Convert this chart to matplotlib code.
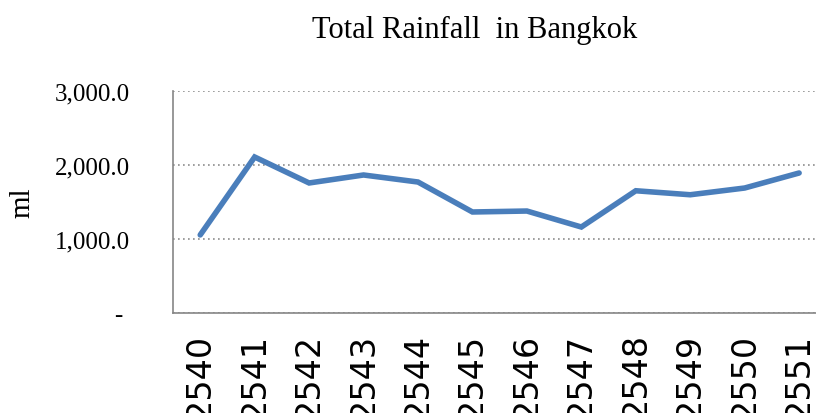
import matplotlib
matplotlib.use("Agg")
import matplotlib.pyplot as plt
from matplotlib.ticker import FuncFormatter

# Данные: годы (буддийский календарь) и суммарные осадки
years = ["2540", "2541", "2542", "2543", "2544", "2545",
         "2546", "2547", "2548", "2549", "2550", "2551"]
rainfall = [1055, 2108, 1757, 1865, 1770, 1365,
            1378, 1162, 1652, 1598, 1689, 1892]
y_ticks = [0, 1000, 2000, 3000]


def fmt_ml(v, pos):
    # Формат как в Excel: ноль показывается прочерком
    if v == 0:
        return "- "
    return f"{v:,.1f}"


fig = plt.figure(figsize=(8.16, 4.14), dpi=100)
ax = fig.add_axes([173 / 816, 100 / 414, 1 - 173 / 816, 222 / 414])

x = list(range(len(years)))
ax.plot(x, rainfall, color="#4a7ebb", linewidth=4, solid_capstyle="round",
        solid_joinstyle="miter")

ax.set_xlim(-0.5, 11.31)
ax.set_ylim(0, 3000)
ax.set_yticks(y_ticks)
ax.yaxis.set_major_formatter(FuncFormatter(fmt_ml))
ax.set_xticks(x)
ax.set_xticklabels(years, rotation=90, fontsize=24, family="DejaVu Sans",
                   va="top", ha="center")

for lbl in ax.get_yticklabels():
    lbl.set_fontfamily("Liberation Serif")
    lbl.set_fontsize(18)

ax.tick_params(axis="y", length=0, pad=31)
ax.tick_params(axis="x", length=0, pad=14)

ax.yaxis.grid(True, linestyle=(0, (1, 2)), color="#8c8c8c", linewidth=1.2)
ax.set_axisbelow(True)
for side in ("top", "right"):
    ax.spines[side].set_visible(False)
for side in ("left", "bottom"):
    ax.spines[side].set_color("#868686")
    ax.spines[side].set_linewidth(1.2)

fig.text(22 / 816, 1 - 203 / 414, "ml", rotation=90, fontsize=21,
         family="Liberation Serif", ha="center", va="center")
fig.text(475 / 816, 1 - 30 / 414, "Total Rainfall  in Bangkok", fontsize=22,
         family="Liberation Serif", ha="center", va="center")

fig.savefig("out.png", dpi=100)
